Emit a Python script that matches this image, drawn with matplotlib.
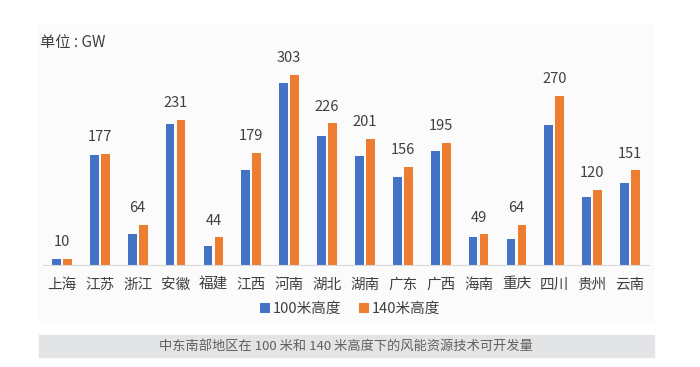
import numpy as np
import matplotlib.pyplot as plt
from matplotlib.patches import Rectangle

plt.rcParams['font.family'] = ['Noto Sans CJK SC', 'DejaVu Sans']

provinces = ["上海", "江苏", "浙江", "安徽", "福建", "江西", "河南", "湖北",
             "湖南", "广东", "广西", "海南", "重庆", "四川", "贵州", "云南"]
h100 = [10, 176, 50, 225, 31, 151, 290, 206, 174, 141, 181, 44, 41, 223, 109, 131]
h140 = [10, 177, 64, 231, 44, 179, 303, 226, 201, 156, 195, 49, 64, 270, 120, 151]

blue = "#4472C4"
orange = "#ED7D31"
text_col = "#404040"

fig = plt.figure(figsize=(7, 3.67), dpi=100)
fig.patch.set_facecolor("white")

# light panel behind the chart and grey caption strip
fig.patches.append(Rectangle((39 / 700, 1 - 322 / 367), 614 / 700, 297 / 367,
                             transform=fig.transFigure, color="#fbfbfb", zorder=-2))
fig.patches.append(Rectangle((39 / 700, 1 - 357 / 367), 615 / 700, 22 / 367,
                             transform=fig.transFigure, color="#e3e4e5", zorder=-2))

ax = fig.add_axes([43 / 700, 102 / 367, 606 / 700, 219.5 / 367])
ax.set_facecolor("none")
ax.set_zorder(1)

x = np.arange(len(provinces))
w = 0.23
ax.bar(x - 0.145, h100, w, color=blue, label="100米高度")
ax.bar(x + 0.145, h140, w, color=orange, label="140米高度")

for xi, v in zip(x, h140):
    ax.annotate(str(v), (xi, v), xytext=(0, 7), textcoords="offset points",
                ha="center", va="bottom", fontsize=10.5, color=text_col)

ax.set_xlim(-0.5, 15.5)
ax.set_ylim(0, 350)
ax.set_xticks(x)
ax.set_xticklabels(provinces, fontsize=10.5, color=text_col)
ax.tick_params(axis="x", length=0, pad=9)
ax.set_yticks([])
for s in ["top", "right", "left"]:
    ax.spines[s].set_visible(False)
ax.spines["bottom"].set_color("#d9d9d9")

fig.text(40 / 700, 1 - 43 / 367, "单位 : GW", fontsize=11, color=text_col, va="center")

fig.legend(loc="center", bbox_to_anchor=(350 / 700, 1 - 309 / 367), ncol=2,
           frameon=False, fontsize=10.5, handlelength=0.7, handleheight=0.7,
           handletextpad=0.2, columnspacing=1.2, labelcolor=text_col)

fig.text(346 / 700, 1 - 346 / 367, "中东南部地区在 100 米和 140 米高度下的风能资源技术可开发量",
         fontsize=9.5, color="#606060", ha="center", va="center")

fig.savefig("out.png", dpi=100)
